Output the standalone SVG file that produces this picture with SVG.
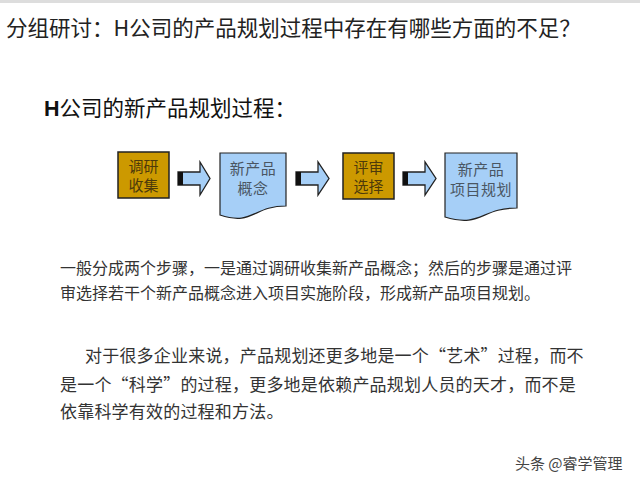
<svg xmlns="http://www.w3.org/2000/svg" width="640" height="488" viewBox="0 0 640 488">
<style>
.cjk{font-family:"Noto Sans CJK SC","Liberation Sans",sans-serif}
.title{font-size:21.5px;fill:#222}
.sub{font-size:21.5px;fill:#111}
.para{font-size:16px;fill:#333}
.para2{font-size:17px;fill:#333;letter-spacing:0.2px}
.box{fill:#CC9900;stroke:#222;stroke-width:1.5}
.doc{fill:#A6CFF7;stroke:#222;stroke-width:1.2}
.boxt{font-size:15px;fill:#4d3a0a;text-anchor:middle}
.doct{font-size:15px;fill:#4a5663;text-anchor:middle;letter-spacing:0.5px}
.arr{fill:#A6CFF7;stroke:#222;stroke-width:1.3}
.tail{fill:#111}
</style>
<rect x="0" y="0" width="640" height="3" fill="#dddddd"/>
<text class="cjk title" x="6" y="36">分组研讨：H公司的产品规划过程中存在有哪些方面的不足？</text>
<text class="cjk sub" x="44" y="116"><tspan font-family="Liberation Sans" font-weight="bold">H</tspan>公司的新产品规划过程：</text>

<g id="node-research">
<rect class="box" x="118" y="152" width="51" height="46"/>
<text class="cjk boxt" x="143.5" y="172">调研</text>
<text class="cjk boxt" x="143.5" y="191">收集</text>
</g>
<g id="node-concept">
<path class="doc" d="M220,153 H286 V206 C253,206 253,226 220,215 Z"/>
<text class="cjk doct" x="253" y="174">新产品</text>
<text class="cjk doct" x="253" y="193.5">概念</text>
</g>
<g id="node-review">
<rect class="box" x="343" y="153" width="51" height="46"/>
<text class="cjk boxt" x="368.5" y="173">评审</text>
<text class="cjk boxt" x="368.5" y="192">选择</text>
</g>
<g id="node-plan">
<path class="doc" d="M445,153 H517 V208 C481,208 481,228 445,217 Z"/>
<text class="cjk doct" x="481" y="175">新产品</text>
<text class="cjk doct" x="481" y="194.5">项目规划</text>
</g>

<g id="connectors">
<g id="arrow1">
<path class="arr" d="M178,172 H200 V162 L210,178.5 L200,195 V185 H178 Z"/>
<rect class="tail" x="178" y="172" width="5" height="13"/>
</g>
<g id="arrow2">
<path class="arr" d="M296,172 H318 V162 L329,178.5 L318,195 V185 H296 Z"/>
<rect class="tail" x="296" y="172" width="5" height="13"/>
</g>
<g id="arrow3">
<path class="arr" d="M403,172 H425 V162 L436,178.5 L425,195 V185 H403 Z"/>
<rect class="tail" x="403" y="172" width="5" height="13"/>
</g>
</g>

<text class="cjk para" x="60" y="274">一般分成两个步骤，一是通过调研收集新产品概念；然后的步骤是通过评</text>
<text class="cjk para" x="60" y="299">审选择若干个新产品概念进入项目实施阶段，形成新产品项目规划。</text>

<text class="cjk para2" x="85" y="362">对于很多企业来说，产品规划还更多地是一个“艺术”过程，而不</text>
<text class="cjk para2" x="60" y="391">是一个“科学”的过程，更多地是依赖产品规划人员的天才，而不是</text>
<text class="cjk para2" x="60" y="418">依靠科学有效的过程和方法。</text>

<text class="cjk" x="515" y="469" font-size="15" fill="#444">头条 @睿学管理</text>
</svg>
